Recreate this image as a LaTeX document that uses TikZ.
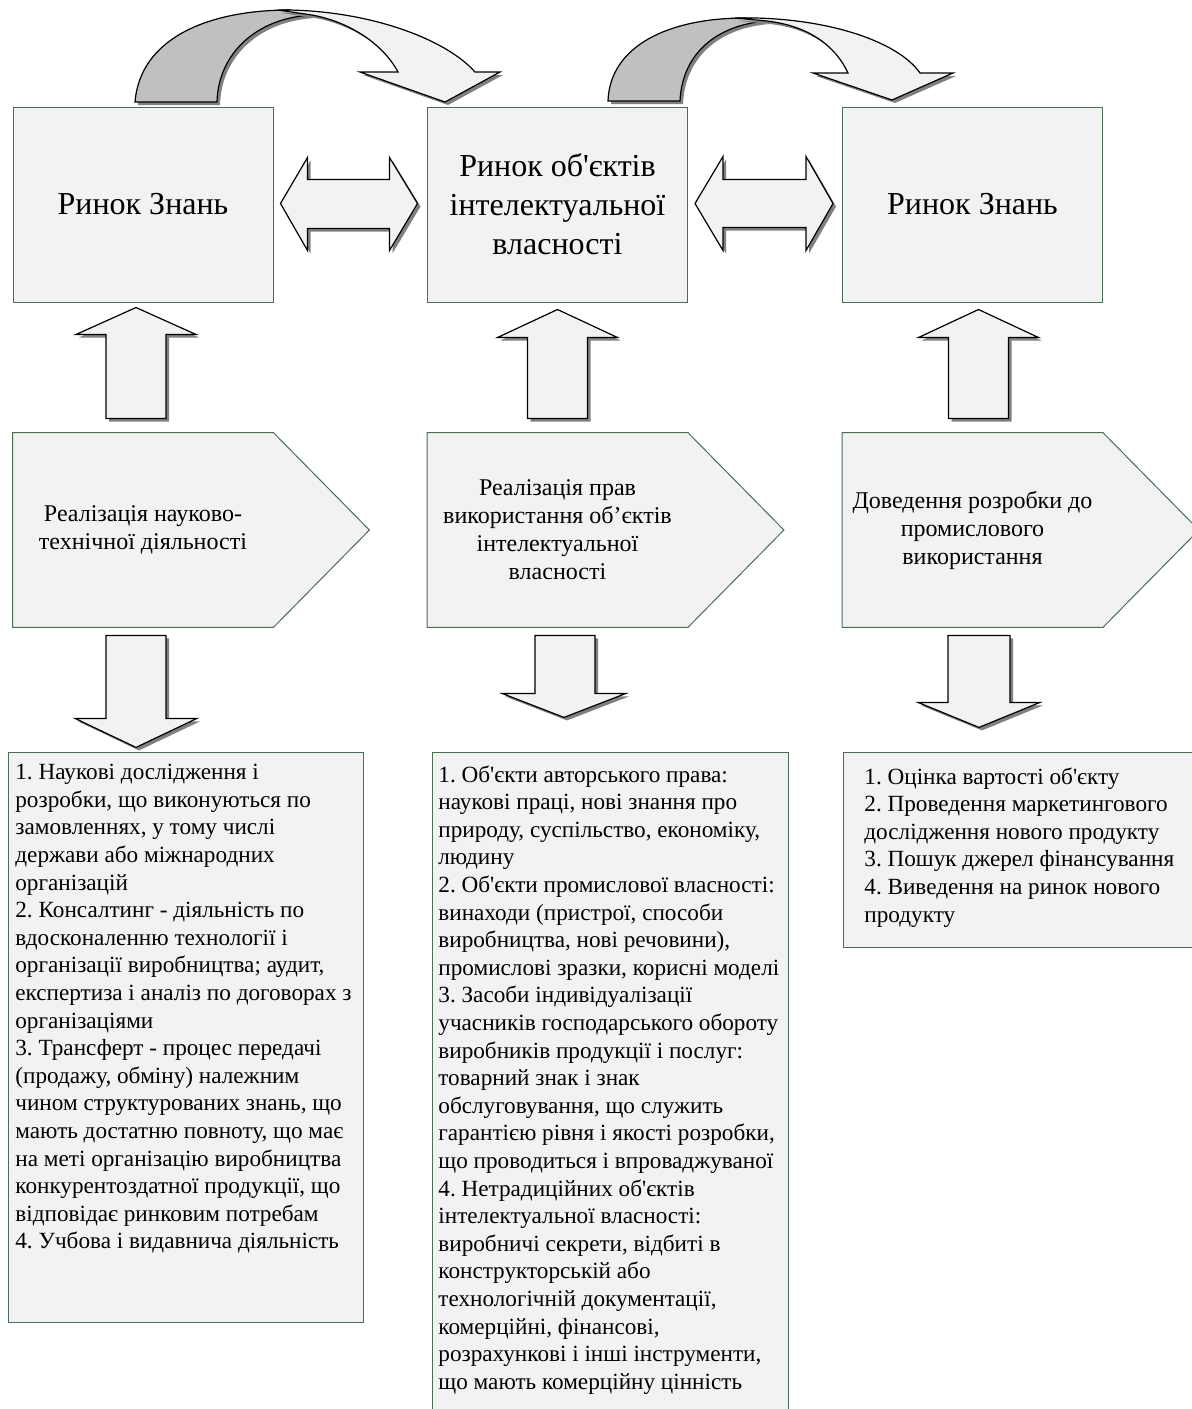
\documentclass[tikz,border=0pt]{standalone}
\usepackage{fontspec}
\setmainfont{Liberation Serif}[Ligatures=TeXOff]
\usetikzlibrary{shadows,backgrounds}
\definecolor{boxfill}{HTML}{F2F2F2}
\definecolor{boxline}{HTML}{4A6E52}
\definecolor{backgray}{HTML}{C0C0C0}
\definecolor{shadowgray}{HTML}{808080}
\frenchspacing

\begin{document}
\begin{tikzpicture}[x=0.5pt, y=-0.5pt,
  market/.style={draw=boxline, fill=boxfill, line width=0.5pt, minimum width=130pt, minimum height=97.5pt, align=center, inner sep=0pt, font=\fontsize{16}{19.5}\selectfont},
  stage/.style={minimum width=130pt, minimum height=97pt, align=center, inner sep=0pt, font=\fontsize{12}{14}\selectfont},
  stageshape/.style={draw=boxline, fill=boxfill, line width=0.5pt},
  listbox/.style={draw=boxline, fill=boxfill, line width=0.5pt, anchor=north west, inner sep=0pt},
  listtext/.style={anchor=north west, align=left, inner sep=0pt, font=\fontsize{11.6}{13.8}\selectfont},
  blockarrow/.style={draw=black, line width=0.6pt, fill=boxfill, line join=miter, drop shadow={shadow xshift=1.5pt, shadow yshift=-1.5pt, fill=shadowgray, opacity=1}},
  backpart/.style={blockarrow, fill=backgray}]
\useasboundingbox (0,0) rectangle (1191,1409);

\node[market] (top1) at (143,204.5) {Ринок Знань};
\node[market] (top2) at (557.5,204.5) {Ринок об'єктів\\інтелектуальної\\власності};
\node[market] (top3) at (972.5,204.5) {Ринок Знань};

\node[stage] (st1) at (143,530) {Реалізація науково-\\технічної діяльності};
\node[stage] (st2) at (557.5,530) {Реалізація прав\\використання об’єктів\\інтелектуальної\\власності};
\node[stage] (st3) at (972.5,530) {Доведення розробки до\\промислового\\використання};
\begin{scope}[on background layer]
\path[stageshape] (st1.north west) -- (st1.north east) -- ([shift={(96,0)}]st1.east) -- (st1.south east) -- (st1.south west) -- cycle;
\path[stageshape] (st2.north west) -- (st2.north east) -- ([shift={(96,0)}]st2.east) -- (st2.south east) -- (st2.south west) -- cycle;
\path[stageshape] (st3.north west) -- (st3.north east) -- ([shift={(96,0)}]st3.east) -- (st3.south east) -- (st3.south west) -- cycle;
\end{scope}

\node[listbox, minimum width=177.5pt, minimum height=285pt] (list1) at (8,752) {};
\node[listbox, minimum width=178pt, minimum height=340pt] (list2) at (432,752) {};
\node[listbox, minimum width=180pt, minimum height=97.5pt] (list3) at (843,752) {};

\node[listtext] (list1txt) at ([shift={(7,12)}]list1.north west) {1. Наукові дослідження і\\розробки, що виконуються по\\замовленнях, у тому числі\\держави або міжнародних\\організацій\\2. Консалтинг - діяльність по\\вдосконаленню технології і\\організації виробництва; аудит,\\експертиза і аналіз по договорах з\\організаціями\\3. Трансферт - процес передачі\\(продажу, обміну) належним\\чином структурованих знань, що\\мають достатню повноту, що має\\на меті організацію виробництва\\конкурентоздатної продукції, що\\відповідає ринковим потребам\\4. Учбова і видавнича діяльність};
\node[listtext] (list2txt) at ([shift={(6,13)}]list2.north west) {1. Об'єкти авторського права:\\наукові праці, нові знання про\\природу, суспільство, економіку,\\людину\\2. Об'єкти промислової власності:\\винаходи (пристрої, способи\\виробництва, нові речовини),\\промислові зразки, корисні моделі\\3. Засоби індивідуалізації\\учасників господарського обороту\\виробників продукції і послуг:\\товарний знак і знак\\обслуговування, що служить\\гарантією рівня і якості розробки,\\що проводиться і впроваджуваної\\4. Нетрадиційних об'єктів\\інтелектуальної власності:\\виробничі секрети, відбиті в\\конструкторській або\\технологічній документації,\\комерційні, фінансові,\\розрахункові і інші інструменти,\\що мають комерційну цінність};
\node[listtext] (list3txt) at ([shift={(21,15)}]list3.north west) {1. Оцінка вартості об'єкту\\2. Проведення маркетингового\\дослідження нового продукту\\3. Пошук джерел фінансування\\4. Виведення на ринок нового\\продукту};

\draw[blockarrow] ([shift={(7,-1)}]top1.east) -- ++(27,-46) -- ++(0,22) -- ++(82,0) -- ++(0,-22) -- ++(28,46) -- ++(-28,47) -- ++(0,-22) -- ++(-82,0) -- ++(0,22) -- cycle;
\draw[blockarrow] ([shift={(7,-1)}]top2.east) -- ++(28,-47) -- ++(0,23) -- ++(83,0) -- ++(0,-23) -- ++(27,47) -- ++(-27,47) -- ++(0,-23) -- ++(-83,0) -- ++(0,23) -- cycle;

\draw[blockarrow] ([shift={(-7,5)}]top1.south) -- ++(60,27) -- ++(-30,0) -- ++(0,84) -- ++(-60,0) -- ++(0,-84) -- ++(-30,0) -- cycle;
\draw[blockarrow] ([shift={(0,7)}]top2.south) -- ++(60,28) -- ++(-30,0) -- ++(0,81) -- ++(-60,0) -- ++(0,-81) -- ++(-30,0) -- cycle;
\draw[blockarrow] ([shift={(6,7)}]top3.south) -- ++(60,28) -- ++(-30,0) -- ++(0,81) -- ++(-60,0) -- ++(0,-81) -- ++(-30,0) -- cycle;

\draw[blockarrow] ([shift={(-7,120)}]st1.south) -- ++(61,-29) -- ++(-31,0) -- ++(0,-83) -- ++(-60,0) -- ++(0,83) -- ++(-31,0) -- cycle;
\draw[blockarrow] ([shift={(6.5,90)}]st2.south) -- ++(62,-24) -- ++(-31,0) -- ++(0,-58) -- ++(-60,0) -- ++(0,58) -- ++(-33,0) -- cycle;
\draw[blockarrow] ([shift={(6.5,100)}]st3.south) -- ++(61,-25) -- ++(-30,0) -- ++(0,-67) -- ++(-62,0) -- ++(0,67) -- ++(-30,0) -- cycle;

\draw[backpart] (135,102) .. controls (140,40) and (205,10) .. (290,10) -- (312,15) .. controls (255,18) and (218,55) .. (217,102) -- cycle;
\draw[blockarrow] (278,10) .. controls (365,9) and (445,38) .. (475,72) -- (500,72) -- (445,102) -- (360,72) -- (398,72) .. controls (383,44) and (350,22) .. (312,15) -- cycle;
\draw[backpart] (608,101) .. controls (610,45) and (670,18) .. (745,18) -- (767,21) .. controls (715,25) and (682,55) .. (680,101) -- cycle;
\draw[blockarrow] (735,18) .. controls (822,16) and (897,40) .. (920,73) -- (953,73) -- (892,100) -- (813,73) -- (848,73) .. controls (836,47) and (810,26) .. (767,21) -- cycle;
\end{tikzpicture}
\end{document}
